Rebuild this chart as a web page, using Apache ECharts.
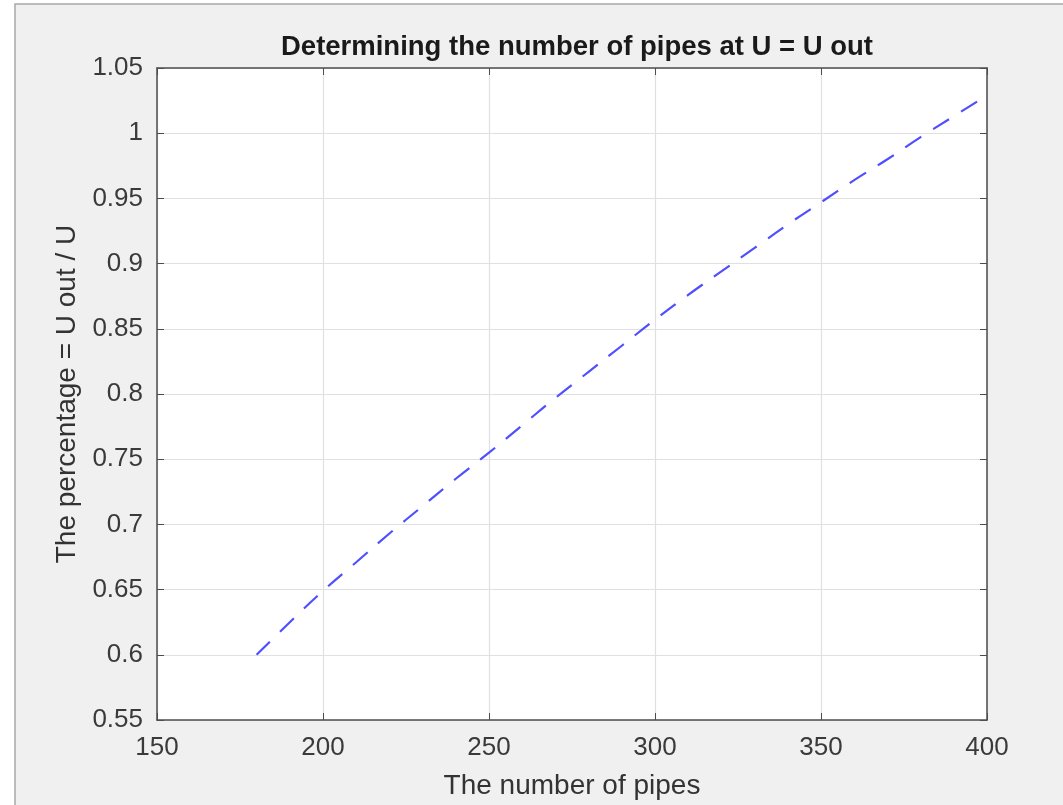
<!DOCTYPE html>
<html>
<head>
<meta charset="utf-8">
<script src="https://cdn.jsdelivr.net/npm/echarts@6/dist/echarts.min.js"></script>
<style>
html,body{margin:0;padding:0;background:#fff;}
#chart{width:1063px;height:805px;}
</style>
</head>
<body>
<div id="chart"></div>
<script>
var titleText = 'Determining the number of pipes at U = U out';
var xName = 'The number of pipes';
var yName = 'The percentage = U out / U';
var pipes = [180,190,200,210,220,230,240,250,260,270,280,290,300,310,320,330,340,350,360,370,380,390,400];
var percentage = [0.600,0.625,0.649,0.671,0.693,0.714,0.735,0.755,0.776,0.797,0.817,0.837,0.857,0.876,0.894,0.912,0.930,0.947,0.964,0.980,0.997,1.013,1.029];
var xTicks = {min:150, max:400, interval:50};
var yTicks = {min:0.55, max:1.05, interval:0.05};

var chart = echarts.init(document.getElementById('chart'));
var font = 'Liberation Sans, Arial, Helvetica, sans-serif';
var fmtY = function(v){ return String(parseFloat(v.toFixed(2))); };
var lineCol = '#4d4d4d';
function baseAxis(extra){
  return Object.assign({
    type:'value',
    axisLine:{show:true, onZero:false, lineStyle:{color:lineCol, width:1.5}},
    axisTick:{show:true, inside:true, length:7, lineStyle:{color:lineCol, width:1}},
    splitLine:{show:false},
    axisLabel:{show:false}
  }, extra);
}
var option = {
  backgroundColor:'#ffffff',
  animation:false,
  graphic:[{
    type:'rect', z:-10, silent:true,
    shape:{x:15, y:4, width:1100, height:900},
    style:{fill:'#f0f0f0', stroke:'#a8a8a8', lineWidth:1.5}
  }],
  title:{
    text:titleText, left:572, top:28, textAlign:'center',
    textStyle:{fontFamily:font, fontSize:27.5, fontWeight:'bold', color:'#1a1a1a'}
  },
  grid:{left:157, right:76, top:68, bottom:83, show:true, backgroundColor:'#ffffff', borderWidth:0},
  xAxis:[
    baseAxis({
      position:'bottom', min:xTicks.min, max:xTicks.max, interval:xTicks.interval,
      name:xName, nameLocation:'middle', nameGap:52,
      nameTextStyle:{fontFamily:font, fontSize:28, color:'#333'},
      axisLabel:{show:true, fontFamily:font, fontSize:26, color:'#3a3a3a', margin:15},
      splitLine:{show:true, lineStyle:{color:'#e0e0e0', width:1.2}}
    }),
    baseAxis({position:'top', min:xTicks.min, max:xTicks.max, interval:xTicks.interval})
  ],
  yAxis:[
    baseAxis({
      position:'left', min:yTicks.min, max:yTicks.max, interval:yTicks.interval,
      name:yName, nameLocation:'middle', nameGap:72,
      nameTextStyle:{fontFamily:font, fontSize:28, color:'#333'},
      axisLabel:{show:true, fontFamily:font, fontSize:26, color:'#3a3a3a', margin:14, formatter:fmtY},
      splitLine:{show:true, lineStyle:{color:'#e0e0e0', width:1.2}}
    }),
    baseAxis({position:'right', min:yTicks.min, max:yTicks.max, interval:yTicks.interval})
  ],
  series:[{
    type:'line',
    xAxisIndex:0, yAxisIndex:0,
    data:pipes.map(function(x,i){ return [x, percentage[i]]; }),
    showSymbol:false, symbol:'none', smooth:true,
    lineStyle:{color:'#4f4fff', width:2.2, type:[19,14]}
  }]
};
chart.setOption(option);
</script>
</body>
</html>
